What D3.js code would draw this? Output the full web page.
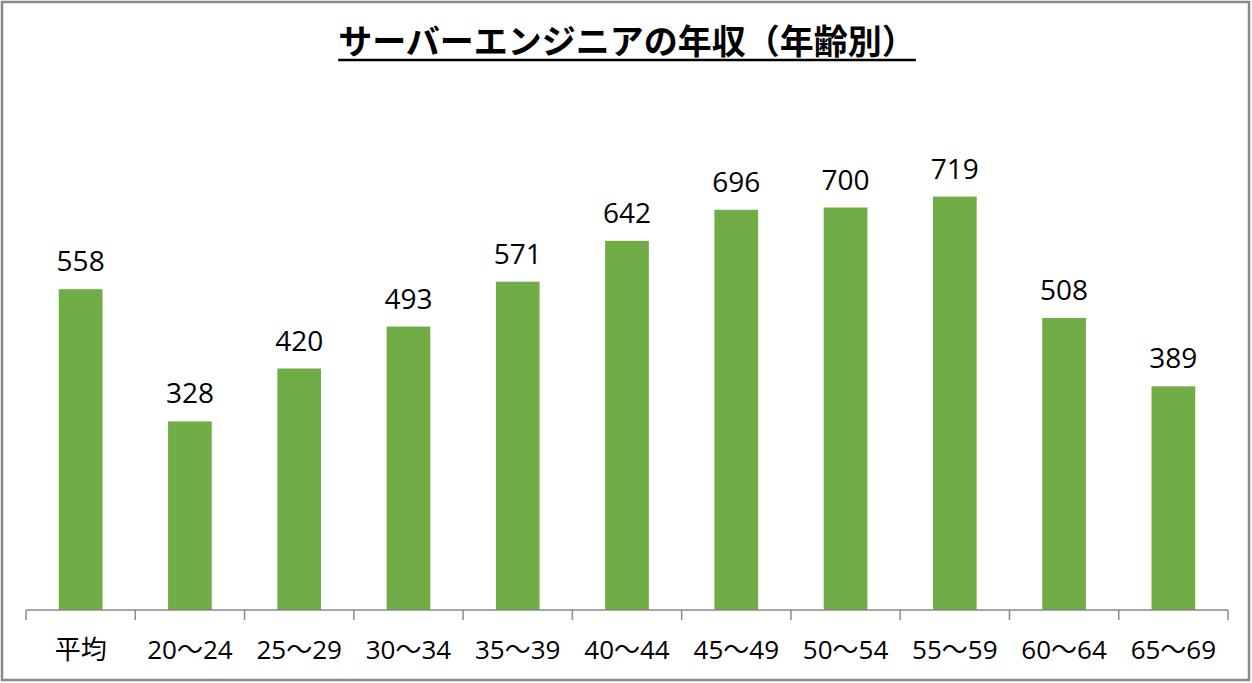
<!DOCTYPE html>
<html>
<head>
<meta charset="utf-8">
<script src="https://cdn.jsdelivr.net/npm/d3@7/dist/d3.min.js"></script>
<style>
	body { margin: 0; background: #fff; }
	svg { display: block; }
</style>
</head>
<body>
<div id="chart"></div>
<script>
// data
const title = "サーバーエンジニアの年収（年齢別）";
const categories = ["平均", "20〜24", "25〜29", "30〜34", "35〜39", "40〜44", "45〜49", "50〜54", "55〜59", "60〜64", "65〜69"];
const values = [558, 328, 420, 493, 571, 642, 696, 700, 719, 508, 389];

const width = 1252, height = 683;
const left = 26, right = 1228, baseline = 610;

const svg = d3.select("#chart")
	.append("svg")
	.attr("width", width)
	.attr("height", height);

svg.append("rect")
	.attr("x", 2).attr("y", 2)
	.attr("width", width - 5).attr("height", height - 5)
	.attr("fill", "#fff")
	.attr("stroke", "#898989")
	.attr("stroke-width", 2.5);

let x = d3.scaleBand().domain(categories).range([left, right]).paddingInner(0.6).paddingOuter(0.3);
let y = d3.scaleLinear().domain([0, 800]).range([baseline, 150]);

let bars = svg.append("g");
bars.selectAll("rect")
	.data(values)
	.enter().append("rect")
	.attr("x", (d, i) => x(categories[i]))
	.attr("y", d => y(d))
	.attr("width", x.bandwidth())
	.attr("height", d => baseline - y(d))
	.attr("fill", "#70ad47");

bars.selectAll("text")
	.data(values)
	.enter().append("text")
	.attr("x", (d, i) => x(categories[i]) + x.bandwidth() / 2)
	.attr("y", d => y(d) - 18)
	.attr("text-anchor", "middle")
	.style("font-family", "'Open Sans', 'Noto Sans', sans-serif")
	.style("font-size", "28px")
	.style("fill", "#000")
	.text(d => d);

// category axis with ticks between the categories
let step = (right - left) / categories.length;
let axis = svg.append("g");
axis.append("line")
	.attr("x1", left).attr("x2", right)
	.attr("y1", baseline).attr("y2", baseline)
	.attr("stroke", "#898989").attr("stroke-width", 1.5);
axis.selectAll("line.tick")
	.data(d3.range(categories.length + 1))
	.enter().append("line")
	.attr("class", "tick")
	.attr("x1", i => left + i * step).attr("x2", i => left + i * step)
	.attr("y1", baseline).attr("y2", baseline + 10)
	.attr("stroke", "#898989").attr("stroke-width", 1.5);
axis.selectAll("text")
	.data(categories)
	.enter().append("text")
	.attr("x", d => x(d) + x.bandwidth() / 2)
	.attr("y", 659)
	.attr("text-anchor", "middle")
	.style("font-family", "'Open Sans', 'Noto Sans CJK JP', sans-serif")
	.style("font-size", "26px")
	.style("fill", "#000")
	.text(d => d);

let t = svg.append("text")
	.attr("x", 627)
	.attr("y", 54)
	.attr("text-anchor", "middle")
	.style("font-family", "'Noto Sans CJK JP', sans-serif")
	.style("font-size", "34px")
	.style("font-weight", "bold")
	.style("fill", "#000")
	.text(title);

let tw = t.node().getComputedTextLength();
svg.append("line")
	.attr("x1", 627 - tw / 2).attr("x2", 627 + tw / 2)
	.attr("y1", 60).attr("y2", 60)
	.attr("stroke", "#000").attr("stroke-width", 2.5);
</script>
</body>
</html>
